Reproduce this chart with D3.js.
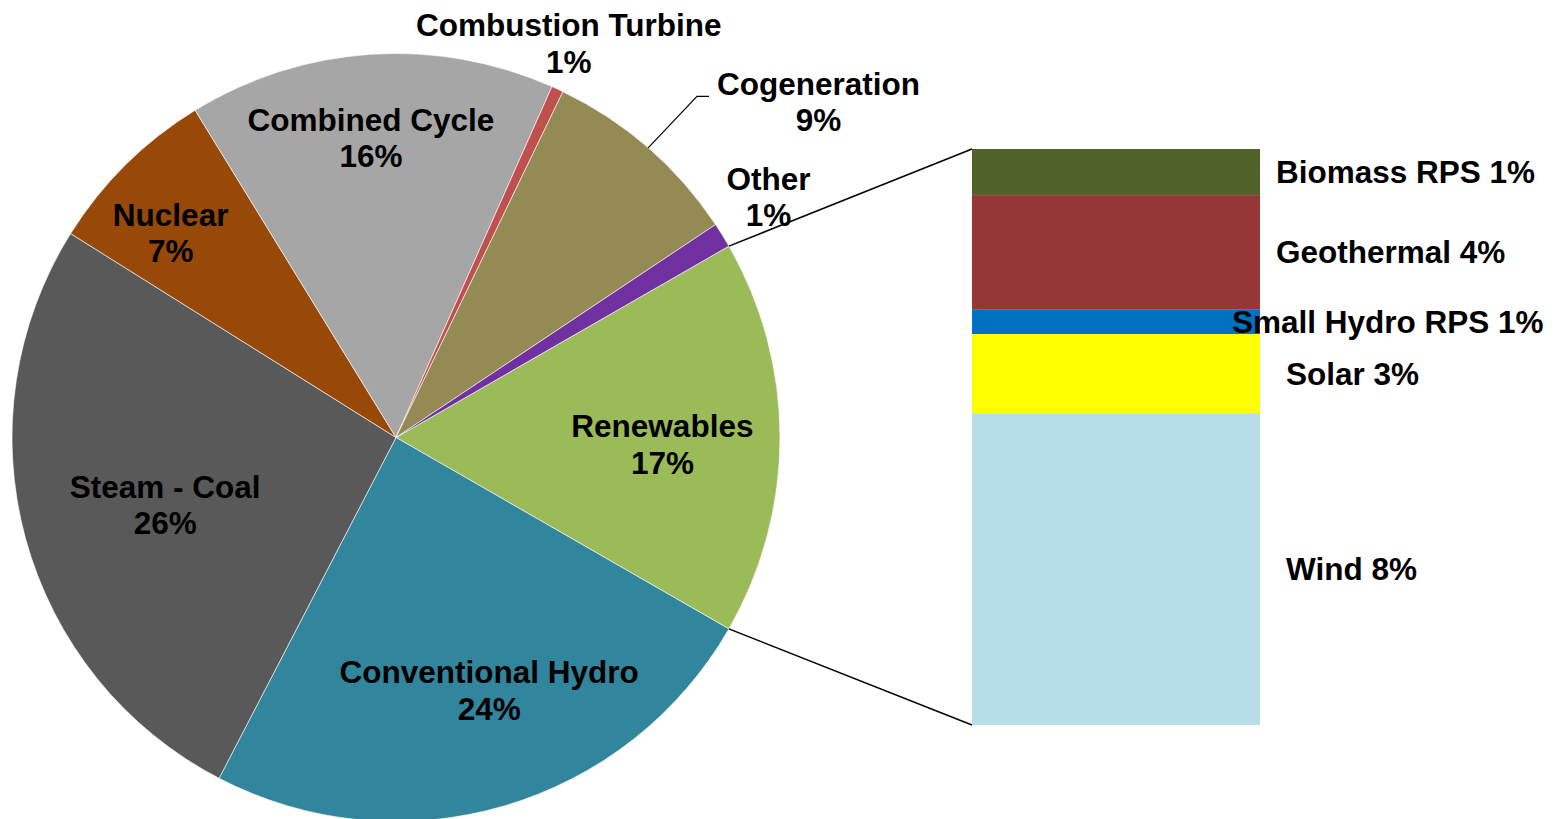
<!DOCTYPE html>
<html>
<head>
<meta charset="utf-8">
<script src="https://cdn.jsdelivr.net/npm/d3@7/dist/d3.min.js"></script>
<style>
  html, body { margin: 0; padding: 0; background: #fff; }
  svg text { font-family: "Liberation Sans", Arial, sans-serif; font-weight: bold; fill: #000; }
</style>
</head>
<body>
<svg id="chart" width="1562" height="819"></svg>
<script>
/* ── DATI ─────────────────────────────────────── */

// fette della torta, in senso orario a partire dalle rinnovabili
const pieNames  = ["Renewables", "Conventional Hydro", "Steam - Coal", "Nuclear",
                   "Combined Cycle", "Combustion Turbine", "Cogeneration", "Other"];
const pieValues = [null, 24.32, 26.29, 7.33, 15.42, 0.50, 8.49, 1.05]; // Renewables = somma della barra
const pieShown  = ["17%", "24%", "26%", "7%", "16%", "1%", "9%", "1%"];
const pieColors = ["#9BBB59", "#31859C", "#595959", "#984807",
                   "#A6A6A6", "#C0504D", "#948A54", "#7030A0"];

// barra di dettaglio delle rinnovabili (dall'alto in basso)
const barNames  = ["Biomass RPS", "Geothermal", "Small Hydro RPS", "Solar", "Wind"];
const barValues = [1.33, 3.29, 0.72, 2.28, 8.99];
const barShown  = ["1%", "4%", "1%", "3%", "8%"];
const barColors = ["#4F6228", "#953735", "#0070C0", "#FFFF00", "#B7DEE8"];

/* ── LAYOUT ───────────────────────────────────── */

const W = 1562, H = 819;
const CX = 396, CY = 437.5, R = 384;
const BAR = { x0: 972, x1: 1260, y0: 149, y1: 725 };
const FONT = 31.5;

// posizione etichette: [frazione del raggio, scostamento angolare in gradi]
const labelPolar = {
  "Renewables":         [0.694,  1.5],
  "Conventional Hydro": [0.702, -3.9],
  "Steam - Coal":       [0.626, -1.0],
  "Nuclear":            [0.793, -3.0],
  "Combined Cycle":     [0.783, -1.0],
  "Combustion Turbine": [1.121, -1.2],
  "Cogeneration":       [1.405, 10.5],
  "Other":              [1.155, -1.1]
};
const barLabelX = { "Small Hydro RPS": 1232, "Solar": 1286, "Wind": 1286 };

const svg = d3.select("#chart");

const renewTotal = d3.sum(barValues);
const slices = pieNames.map((n, i) => ({
  name: n,
  value: i === 0 ? renewTotal : pieValues[i],
  shown: pieShown[i],
  color: pieColors[i]
}));
const total = d3.sum(slices, d => d.value);

// rinnovabili centrate a ore 3
const a0 = Math.PI / 2 - Math.PI * renewTotal / total;
const pie = d3.pie().sort(null).value(d => d.value)
  .startAngle(a0).endAngle(a0 + 2 * Math.PI);
const arcs = pie(slices);
const arc = d3.arc().innerRadius(0).outerRadius(R);

const polar = (a, r) => [CX + r * Math.sin(a), CY - r * Math.cos(a)];

/* ── TORTA ────────────────────────────────────── */

const gPie = svg.append("g").attr("transform", `translate(${CX},${CY})`);
gPie.selectAll("path")
  .data(arcs)
  .join("path")
  .attr("d", arc)
  .attr("fill", d => d.data.color)
  .attr("stroke", "#fff")
  .attr("stroke-width", 0.6);

/* ── BARRA ────────────────────────────────────── */

const y = d3.scaleLinear().domain([0, renewTotal]).range([BAR.y0, BAR.y1]);
const cum = d3.cumsum(barValues);
const bars = barNames.map((n, i) => ({
  name: n, shown: barShown[i], color: barColors[i],
  top: i === 0 ? 0 : cum[i - 1], bottom: cum[i]
}));

svg.append("g").selectAll("rect")
  .data(bars)
  .join("rect")
  .attr("x", BAR.x0)
  .attr("width", BAR.x1 - BAR.x0)
  .attr("y", d => y(d.top))
  .attr("height", d => y(d.bottom) - y(d.top))
  .attr("fill", d => d.color);

svg.append("g").selectAll("text")
  .data(bars)
  .join("text")
  .attr("x", d => barLabelX[d.name] || 1276)
  .attr("y", d => (y(d.top) + y(d.bottom)) / 2 + FONT * 0.355)
  .attr("font-size", FONT)
  .text(d => `${d.name} ${d.shown}`);

/* ── LINEE DI COLLEGAMENTO ────────────────────── */

const ren = arcs[0];
const pTop = polar(ren.startAngle, R);
const pBot = polar(ren.endAngle, R);
svg.append("g")
  .attr("stroke", "#000").attr("stroke-width", 1.5).attr("fill", "none")
  .selectAll("line")
  .data([[pTop, [BAR.x0, y(0)]], [pBot, [BAR.x0, y(renewTotal)]]])
  .join("line")
  .attr("x1", d => d[0][0]).attr("y1", d => d[0][1])
  .attr("x2", d => d[1][0]).attr("y2", d => d[1][1]);

/* ── ETICHETTE TORTA ──────────────────────────── */

const LINE = 36.6;
arcs.forEach(d => {
  const [k, da] = labelPolar[d.data.name];
  const mid = (d.startAngle + d.endAngle) / 2;
  const [lx, ly] = polar(mid + da * Math.PI / 180, k * R);
  const t = svg.append("text")
    .attr("text-anchor", "middle")
    .attr("font-size", FONT);
  t.append("tspan").attr("x", lx).attr("y", ly - LINE / 2 + FONT * 0.355)
    .text(d.data.name);
  t.append("tspan").attr("x", lx).attr("y", ly + LINE / 2 + FONT * 0.355)
    .text(d.data.shown);

  // linea guida per la cogenerazione
  if (d.data.name === "Cogeneration") {
    const p0 = polar(mid, R);
    const bb = t.node().getBBox();
    const yl = ly - LINE / 2 + FONT * 0.355 + 1.5;
    const xe = bb.x - 8;
    svg.append("path")
      .attr("d", d3.line()([p0, [xe - 12, yl], [xe, yl]]))
      .attr("fill", "none")
      .attr("stroke", "#000")
      .attr("stroke-width", 1.2);
  }
});
</script>
</body>
</html>
